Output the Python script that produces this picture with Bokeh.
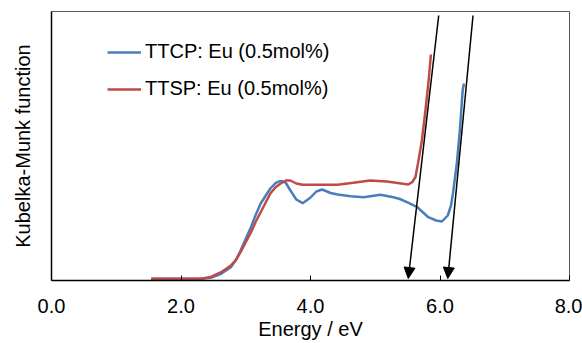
from bokeh.plotting import figure
from bokeh.models import (FixedTicker, Legend, LegendItem, Arrow, NormalHead,
                          Range1d, NumeralTickFormatter)
from bokeh.embed import file_html
from bokeh.resources import INLINE

# TTCP: Eu (0.5mol%)
ttcp_energy = [1.54, 2.00, 2.31, 2.46, 2.62, 2.77, 2.85, 2.92, 3.00, 3.08, 3.15, 3.23,
               3.31, 3.38, 3.46, 3.51, 3.56, 3.62, 3.69, 3.78, 3.88, 4.00, 4.09, 4.18,
               4.31, 4.42, 4.62, 4.82, 5.08, 5.28, 5.38, 5.49, 5.65, 5.82, 5.94, 6.03,
               6.12, 6.17, 6.20, 6.26, 6.31, 6.35, 6.37]
ttcp_km = [0.017, 0.017, 0.017, 0.027, 0.067, 0.133, 0.207, 0.300, 0.417, 0.533, 0.650, 0.770,
           0.850, 0.920, 0.973, 0.990, 0.995, 0.975, 0.900, 0.810, 0.773, 0.830, 0.890, 0.910,
           0.875, 0.860, 0.843, 0.833, 0.857, 0.833, 0.815, 0.783, 0.733, 0.633, 0.600, 0.590,
           0.650, 0.750, 0.870, 1.170, 1.530, 1.900, 1.970]

# TTSP: Eu (0.5mol%)
ttsp_energy = [1.54, 2.00, 2.31, 2.46, 2.62, 2.77, 2.85, 2.92, 3.00, 3.08, 3.15, 3.23,
               3.31, 3.38, 3.46, 3.54, 3.62, 3.69, 3.78, 3.88, 4.15, 4.42, 4.66, 4.92,
               5.18, 5.43, 5.51, 5.57, 5.62, 5.66, 5.72, 5.77, 5.82, 5.86]
ttsp_km = [0.017, 0.017, 0.017, 0.035, 0.083, 0.150, 0.207, 0.283, 0.383, 0.480, 0.583, 0.683,
           0.783, 0.870, 0.933, 0.970, 1.000, 1.000, 0.970, 0.957, 0.957, 0.957, 0.977, 1.000,
           0.990, 0.967, 0.960, 0.983, 1.033, 1.170, 1.400, 1.670, 1.970, 2.260]

# band-edge extrapolation arrows
arrow_x_start = [5.98, 6.51]
arrow_y_start = [2.65, 2.65]
arrow_x_end = [5.51, 6.12]
arrow_y_end = [0.02, 0.02]

x_ticks = [0, 2, 4, 6, 8]

FONT = "Liberation Sans"
FS = "20px"

p = figure(width=582, height=343, output_backend="svg", toolbar_location=None,
           x_range=Range1d(0, 8), y_range=Range1d(0, 2.69),
           min_border_left=51, min_border_right=13, min_border_top=11, min_border_bottom=63)
p.grid.visible = False
p.outline_line_color = "#595959"
p.outline_line_width = 1
p.background_fill_color = "white"
p.border_fill_color = "white"

r1 = p.line(ttcp_energy, ttcp_km, line_color="#4A7EBB", line_width=2.5)
r2 = p.line(ttsp_energy, ttsp_km, line_color="#BE4B48", line_width=2.5)

for xs, ys, xe, ye in zip(arrow_x_start, arrow_y_start, arrow_x_end, arrow_y_end):
    p.add_layout(Arrow(end=NormalHead(size=11, fill_color="black", line_color="black"),
                       x_start=xs, y_start=ys, x_end=xe, y_end=ye,
                       line_color="black", line_width=1.5))

xa = p.xaxis[0]
xa.ticker = FixedTicker(ticks=x_ticks)
xa.formatter = NumeralTickFormatter(format="0.0")
xa.major_tick_in = 5
xa.major_tick_out = 0
xa.minor_tick_line_color = None
xa.major_tick_line_color = "black"
xa.axis_line_color = "black"
xa.axis_line_width = 1.5
xa.major_label_text_font = FONT
xa.major_label_text_font_size = FS
xa.major_label_text_color = "black"
xa.major_label_standoff = 18
xa.axis_label = "Energy / eV"
xa.axis_label_text_font = FONT
xa.axis_label_text_font_size = FS
xa.axis_label_text_font_style = "normal"
xa.axis_label_text_color = "black"
xa.axis_label_standoff = 2

ya = p.yaxis[0]
ya.ticker = FixedTicker(ticks=[])
ya.minor_tick_line_color = None
ya.major_tick_line_color = None
ya.axis_line_color = "black"
ya.axis_line_width = 1.5
ya.axis_label = "Kubelka-Munk function"
ya.axis_label_text_font = FONT
ya.axis_label_text_font_size = FS
ya.axis_label_text_font_style = "normal"
ya.axis_label_text_color = "black"
ya.axis_label_standoff = 18

legend = Legend(items=[LegendItem(label="TTCP: Eu (0.5mol%)", renderers=[r1]),
                       LegendItem(label="TTSP: Eu (0.5mol%)", renderers=[r2])],
                location=(56, 180), padding=0, margin=0, spacing=14,
                glyph_width=34, glyph_height=22, label_height=22, label_standoff=4,
                label_text_font=FONT, label_text_font_size=FS, label_text_color="black",
                border_line_color=None, background_fill_alpha=0)
p.add_layout(legend)

open("out.html", "w").write(file_html(p, INLINE))
